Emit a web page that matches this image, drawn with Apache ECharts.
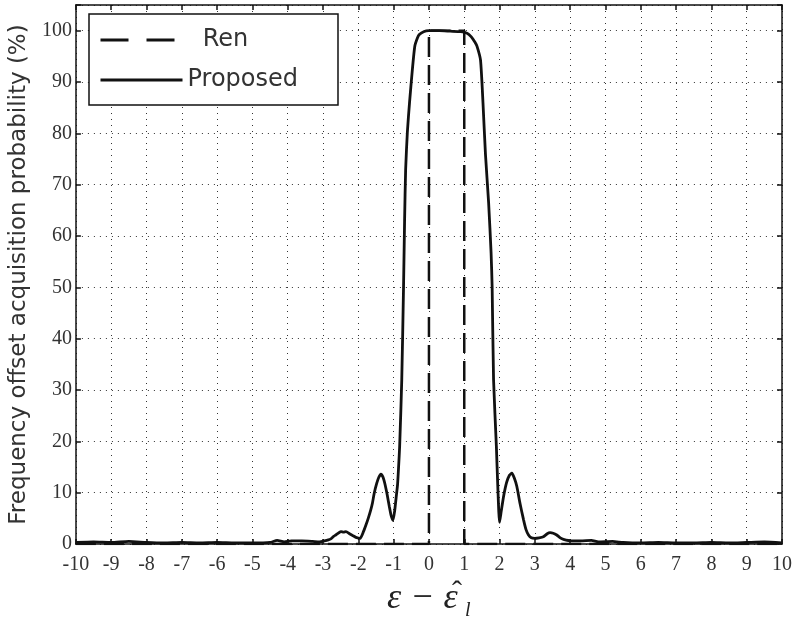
<!DOCTYPE html>
<html>
<head>
<meta charset="utf-8">
<script src="https://cdn.jsdelivr.net/npm/echarts@6/dist/echarts.min.js"></script>
<style>
  html, body { margin: 0; padding: 0; background: #fff; }
  #chart { width: 804px; height: 627px; }
</style>
</head>
<body>
<div id="chart"></div>
<script>
// x ticks and y ticks
var xTicks = [-10, -9, -8, -7, -6, -5, -4, -3, -2, -1, 0, 1, 2, 3, 4, 5, 6, 7, 8, 9, 10];
var yTicks = [0, 10, 20, 30, 40, 50, 60, 70, 80, 90, 100];

// Ren (ideal window)
var renX = [-10, 0, 0, 1, 1, 10];
var renY = [0, 0, 100, 100, 0, 0];

// Proposed
var propX = [-10, -9.5, -9, -8.5, -8, -7.5, -7, -6.5, -6, -5.5, -5, -4.5, -4.3, -4.1, -3.9, -3.6, -3.3, -3.1,
  -2.96, -2.85, -2.78, -2.7, -2.63, -2.55, -2.49, -2.42, -2.35, -2.25, -2.15, -2.07, -1.95, -1.85, -1.79, -1.72,
  -1.65, -1.6, -1.55, -1.48, -1.42, -1.36, -1.3, -1.24, -1.18, -1.12, -1.07, -1.02, -0.97, -0.93, -0.89, -0.86,
  -0.83, -0.77, -0.72, -0.69, -0.66, -0.61, -0.55, -0.47, -0.4, -0.33, -0.28, -0.15, 0, 0.3, 0.6, 0.9,
  1.08, 1.2, 1.3, 1.36, 1.46, 1.53, 1.6, 1.69, 1.76, 1.79, 1.83, 1.91, 1.95, 2.0, 2.05, 2.12, 2.2, 2.28,
  2.35, 2.42, 2.49, 2.58, 2.68, 2.75, 2.82, 2.9, 3.0, 3.12, 3.24, 3.35, 3.43, 3.52, 3.62, 3.72, 3.81,
  4.04, 4.3, 4.6, 4.8, 5.2, 5.5, 6, 6.5, 7, 7.5, 8, 8.5, 9, 9.5, 10];
var propY = [0.3, 0.4, 0.3, 0.5, 0.3, 0.2, 0.3, 0.2, 0.3, 0.2, 0.2, 0.3, 0.7, 0.4, 0.6, 0.6, 0.5, 0.4,
  0.6, 0.8, 1.0, 1.5, 1.8, 2.2, 2.4, 2.3, 2.4, 2.0, 1.6, 1.3, 1.1, 2.5, 3.6, 5.0,
  6.6, 8.0, 9.9, 11.8, 13.0, 13.6, 13.0, 11.5, 9.5, 7.2, 5.5, 4.6, 6.5, 9.0, 11.5, 15,
  19, 32, 50, 63, 73, 80.4, 86, 92.4, 97, 98.5, 99.2, 99.8, 100, 100, 99.9, 99.8,
  99.5, 98.8, 97.8, 97, 94.3, 86, 76, 66.5, 56.7, 50, 32, 19, 11.2, 4.2, 6.5, 9.5, 12.0, 13.4,
  13.8, 12.8, 11.2, 7.9, 4.7, 2.8, 1.75, 1.2, 1.1, 1.2, 1.4, 2.0, 2.2, 2.1, 1.75, 1.2, 0.9,
  0.6, 0.6, 0.7, 0.4, 0.5, 0.3, 0.2, 0.3, 0.2, 0.2, 0.3, 0.2, 0.3, 0.4, 0.2];

function zip(xs, ys) {
    return xs.map(function (x, i) { return [x, ys[i]]; });
}

var chart = echarts.init(document.getElementById('chart'));
var serif = "'Liberation Serif', 'DejaVu Serif', serif";
var sans = "'DejaVu Sans', 'Liberation Sans', sans-serif";

var gridLine = { show: true, lineStyle: { color: '#333', width: 1, type: [1, 5] } };
var frame = { show: true, onZero: false, lineStyle: { color: '#111', width: 1.5 } };
var inTick = { show: true, inside: true, length: 5, lineStyle: { color: '#111', width: 1.5 } };

chart.setOption({
    animation: false,
    backgroundColor: '#fff',
    grid: { left: 73, right: 22, top: 5, bottom: 83, containLabel: false },
    legend: {
        orient: 'vertical',
        left: 89,
        top: 14,
        padding: [14, 40, 13, 10],
        itemGap: 16,
        itemWidth: 82,
        itemHeight: 14,
        backgroundColor: '#fff',
        borderColor: '#111',
        borderWidth: 1.5,
        borderRadius: 0,
        itemStyle: { opacity: 0 },
        data: [
            { name: 'Ren', lineStyle: { type: [28, 18], width: 3 } },
            { name: 'Proposed', lineStyle: { width: 3 } }
        ],
        formatter: function (name) { return name === 'Ren' ? '  Ren' : name; },
        textStyle: { fontFamily: sans, fontSize: 24, color: '#333' }
    },
    graphic: [
        { type: 'text', left: 387, top: 581, z: 10,
          style: { text: 'ε − ε', font: "italic 36px 'Liberation Serif'", fill: '#222' } },
        { type: 'text', left: 452, top: 578, z: 10,
          style: { text: 'ˆ', font: "30px 'Liberation Serif'", fill: '#222' } },
        { type: 'text', left: 465, top: 601, z: 10,
          style: { text: 'l', font: "italic 20px 'Liberation Serif'", fill: '#222' } }
    ],
    xAxis: [{
        type: 'value',
        min: -10, max: 10, interval: 1,
        position: 'bottom',
        axisLine: frame,
        axisTick: inTick,
        splitLine: gridLine,
        axisLabel: { fontFamily: serif, fontSize: 20, color: '#333', margin: 11 }
    }, {
        type: 'value',
        min: -10, max: 10, interval: 1,
        position: 'top',
        axisLine: frame,
        axisTick: inTick,
        splitLine: { show: false },
        axisLabel: { show: false }
    }],
    yAxis: [{
        type: 'value',
        min: 0, max: 105, interval: 10,
        position: 'left',
        axisLine: frame,
        axisTick: inTick,
        splitLine: gridLine,
        axisLabel: {
            fontFamily: serif, fontSize: 20, color: '#333', margin: 4,
            formatter: function (v) { return yTicks.indexOf(v) >= 0 ? String(v) : ''; }
        },
        name: 'Frequency offset acquisition probability (%)',
        nameLocation: 'middle',
        nameGap: 42,
        nameTextStyle: { fontFamily: sans, fontSize: 23, color: '#333' }
    }, {
        type: 'value',
        min: 0, max: 105, interval: 10,
        position: 'right',
        axisLine: frame,
        axisTick: inTick,
        splitLine: { show: false },
        axisLabel: { show: false }
    }],
    series: [{
        name: 'Ren',
        type: 'line',
        data: zip(renX, renY),
        symbol: 'none',
        itemStyle: { color: '#111' },
        lineStyle: { color: '#111', width: 2.5, type: [20, 8] },
        z: 2
    }, {
        name: 'Proposed',
        type: 'line',
        data: zip(propX, propY),
        symbol: 'none',
        smooth: 0.2,
        itemStyle: { color: '#111' },
        lineStyle: { color: '#111', width: 2.8 },
        z: 3
    }]
});
</script>
</body>
</html>
